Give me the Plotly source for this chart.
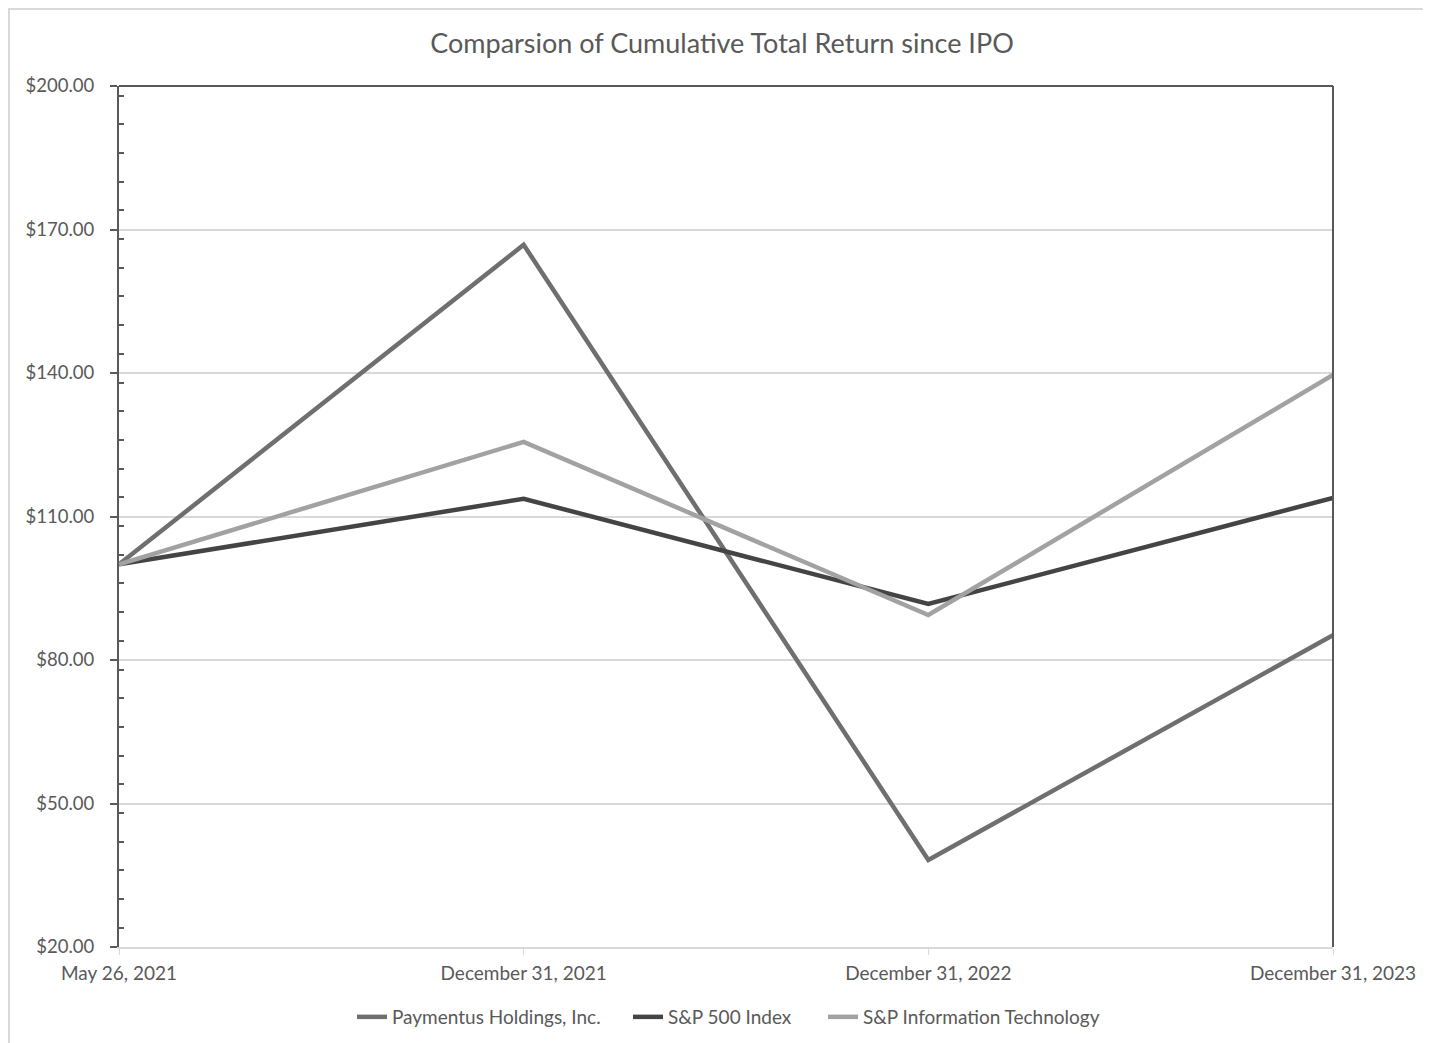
import plotly.graph_objects as go

categories = ["May 26, 2021", "December 31, 2021", "December 31, 2022", "December 31, 2023"]
paymentus = [100.0, 166.8, 38.2, 85.2]
sp500 = [100.0, 113.7, 91.7, 113.9]
sp_it = [100.0, 125.6, 89.4, 139.6]
y_ticks = [20, 50, 80, 110, 140, 170, 200]
y_tick_labels = ["$%.2f" % v for v in y_ticks]

FONT = "Lato"
x_idx = list(range(len(categories)))

# browser body margin of 8px
OFF = 8
W, H = 1431 - OFF, 1043 - OFF
L, T = 119 - OFF, 86 - OFF
R = W - (1333 - OFF)
B = H - (947 - OFF)
pw, ph = W - L - R, H - T - B

def px(xpage):
    return (xpage - OFF - L) / pw

def py(ypage):
    return 1 - (ypage - OFF - T) / ph

fig = go.Figure()
series = [
    ("Paymentus Holdings, Inc.", paymentus, "#6f6f6f", "legend", 352),
    ("S&P 500 Index", sp500, "#444444", "legend2", 628),
    ("S&P Information Technology", sp_it, "#a2a2a2", "legend3", 823),
]
legends = {}
for name, vals, col, lg, lx in series:
    fig.add_trace(go.Scatter(x=x_idx, y=vals, mode="lines", name=name, legend=lg,
                             line=dict(color=col, width=4.5)))
    legends[lg] = dict(orientation="h", x=px(lx), xanchor="left", y=py(1017), yanchor="middle",
                       font=dict(size=19, color="#595959", family=FONT),
                       itemwidth=30, bgcolor="rgba(0,0,0,0)")

fig.update_layout(
    width=W, height=H,
    margin=dict(l=L, r=R, t=T, b=B, autoexpand=False),
    paper_bgcolor="white", plot_bgcolor="white",
    font=dict(family=FONT, color="#595959", size=18),
    title=dict(text="Comparsion of Cumulative Total Return since IPO",
               x=(722 - OFF) / W, xanchor="center", y=1 - (44 - OFF) / H, yanchor="middle",
               font=dict(size=27, color="#595959", family=FONT)),
    showlegend=True,
    legend=legends["legend"], legend2=legends["legend2"], legend3=legends["legend3"],
    xaxis=dict(range=[0, 3], tickvals=x_idx, ticktext=categories, showgrid=False,
               zeroline=False, showline=True, linecolor="#d9d9d9", linewidth=2,
               ticks="outside", ticklen=6, tickcolor="#d9d9d9", ticklabelstandoff=2,
               tickfont=dict(size=19, color="#595959", family=FONT),
               automargin=False, fixedrange=True),
    yaxis=dict(range=[20, 200], tickvals=y_ticks, ticktext=y_tick_labels,
               showgrid=True, gridcolor="#d9d9d9", gridwidth=1.5, zeroline=False,
               showline=True, linecolor="#595959", linewidth=2,
               ticks="outside", ticklen=7, tickcolor="#595959", tickwidth=1.5,
               ticklabelstandoff=12,
               tickfont=dict(size=18.5, color="#595959", family=FONT),
               minor=dict(dtick=6, ticks="inside", ticklen=5, tickcolor="#595959",
                          tickwidth=1.5, showgrid=False),
               automargin=False, fixedrange=True),
    shapes=[
        dict(type="line", xref="paper", yref="paper", x0=1, x1=1, y0=0, y1=1,
             line=dict(color="#595959", width=2)),
        dict(type="line", xref="paper", yref="paper", x0=0, x1=1, y0=1, y1=1,
             line=dict(color="#595959", width=2)),
        dict(type="line", xref="paper", yref="paper", x0=px(8), x1=px(1440), y0=py(9), y1=py(9),
             line=dict(color="#d9d9d9", width=2)),
        dict(type="line", xref="paper", yref="paper", x0=px(9), x1=px(9), y0=py(9), y1=py(1050),
             line=dict(color="#d9d9d9", width=2)),
    ],
)

fig.write_html("out.html", config={"displayModeBar": False})
